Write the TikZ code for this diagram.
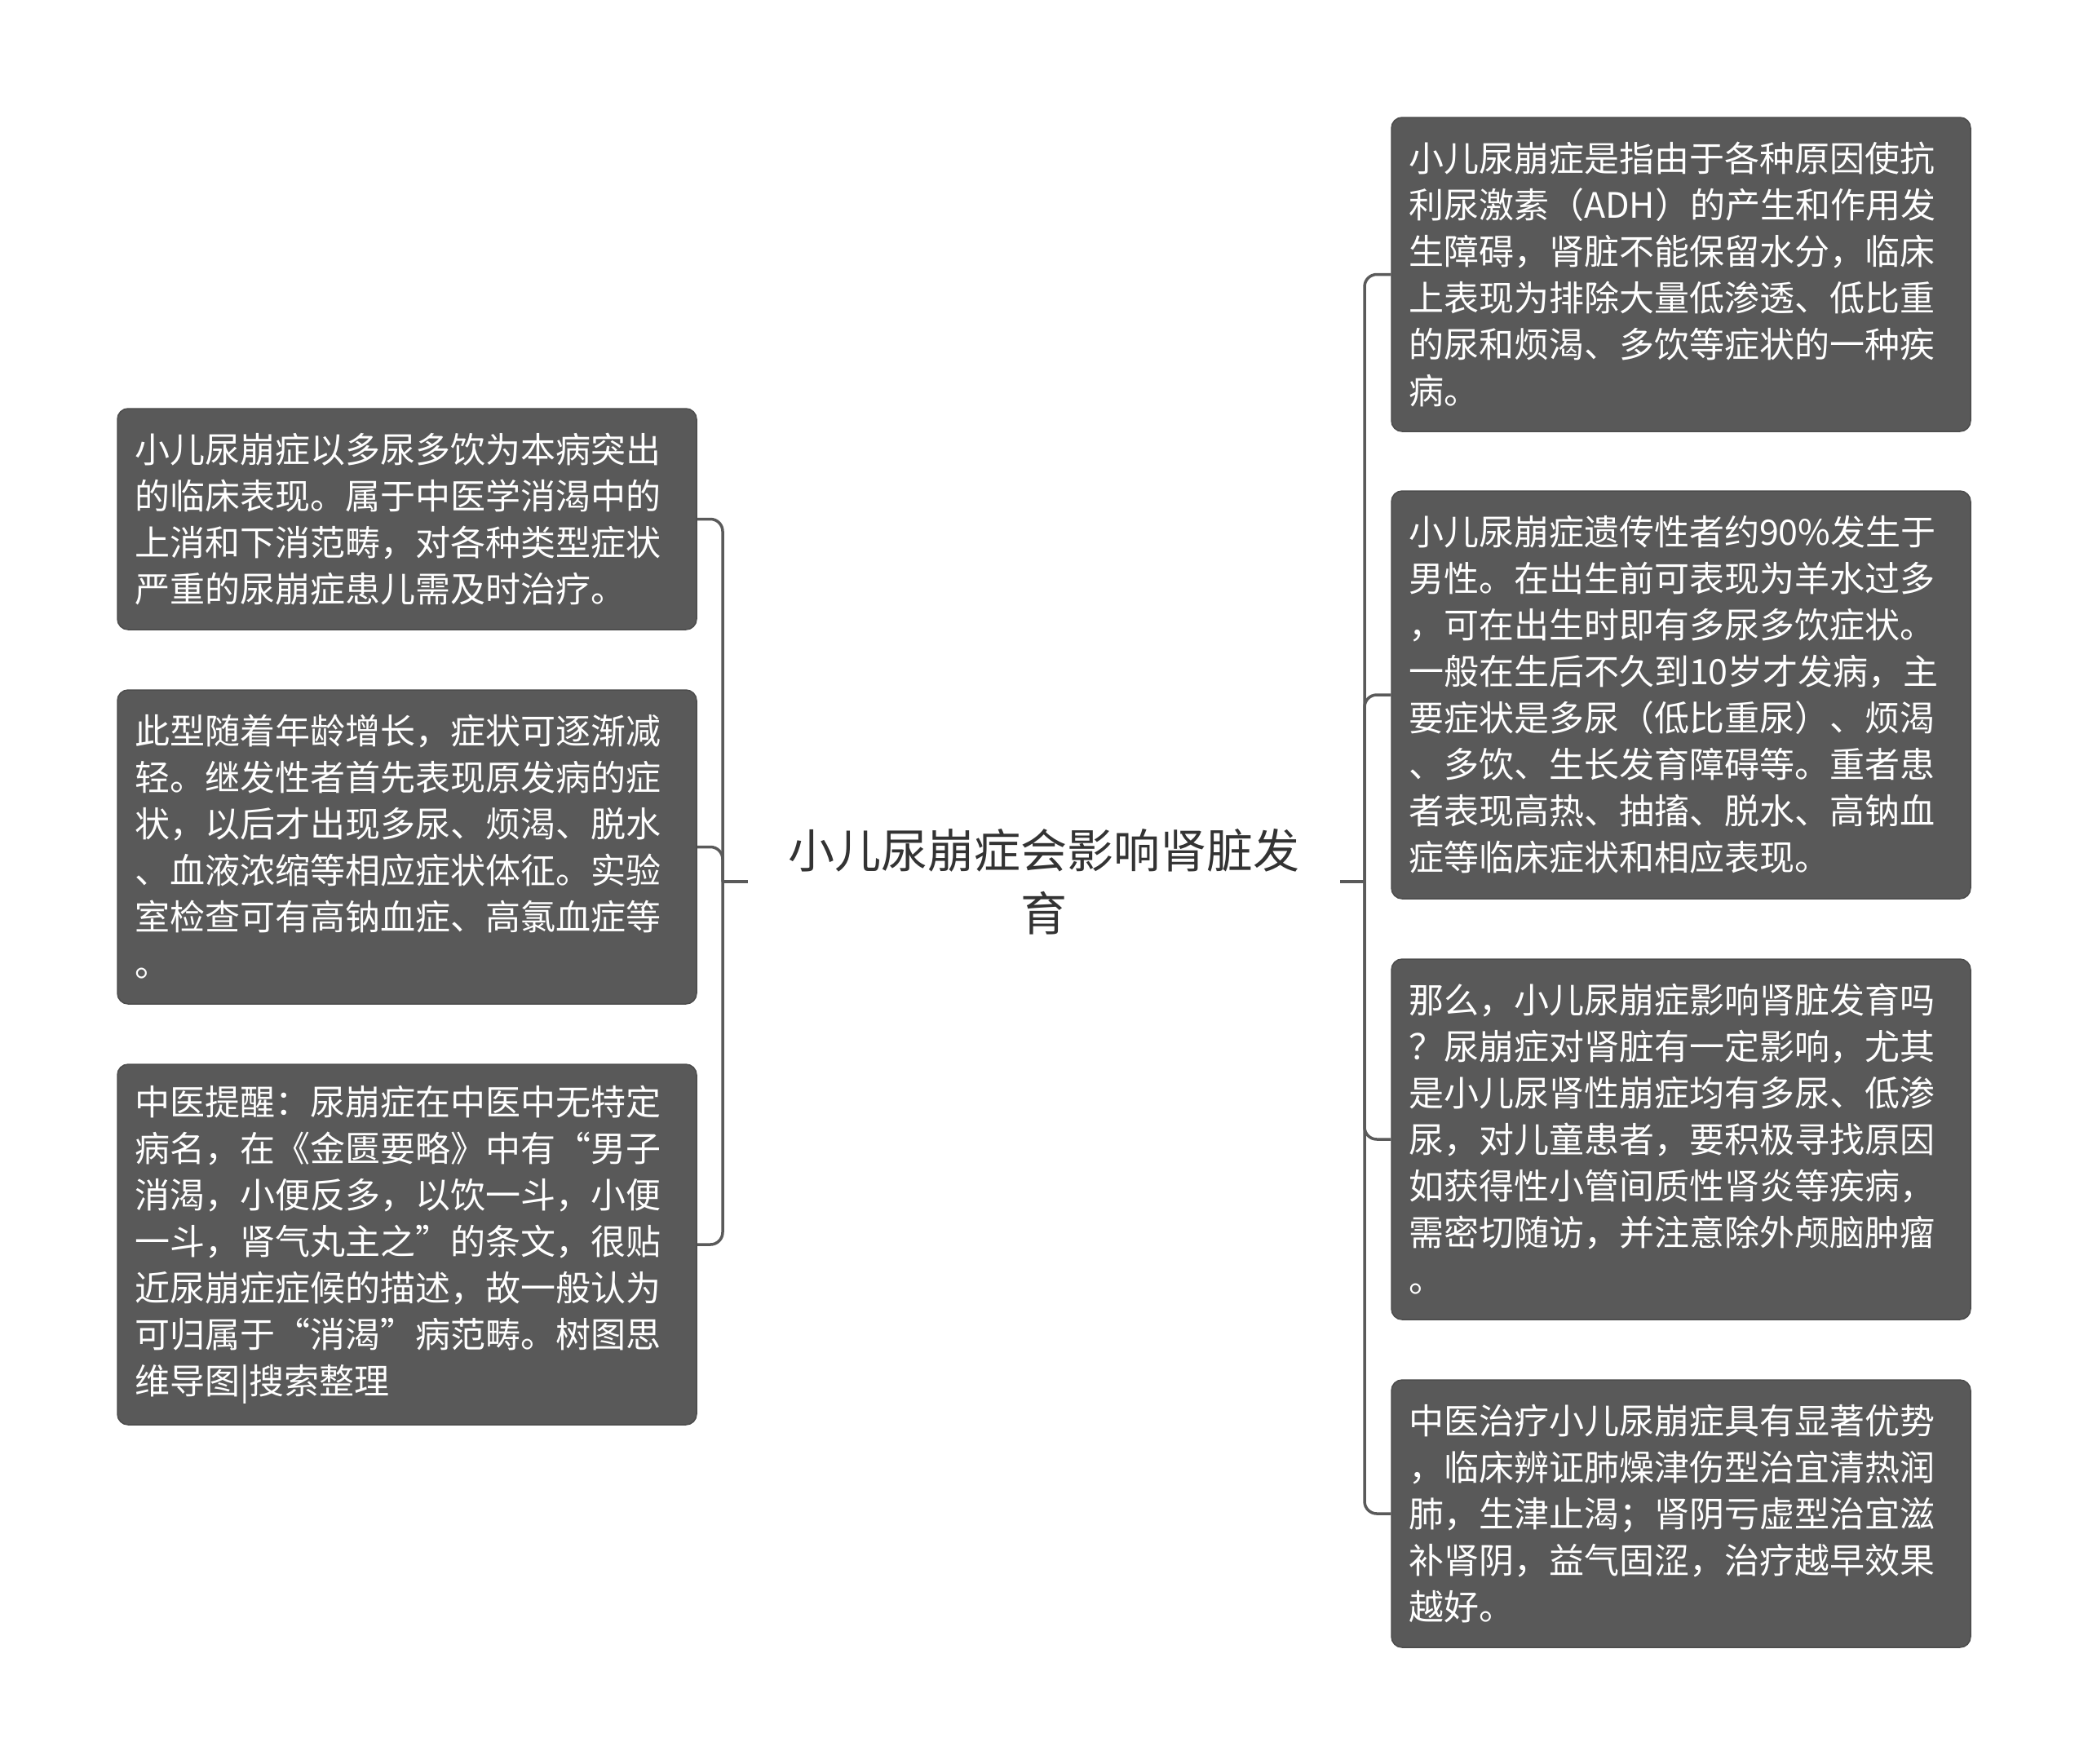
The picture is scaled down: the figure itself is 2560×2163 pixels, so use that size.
\documentclass[tikz,border=0pt]{standalone}
\usepackage{fontspec}
\newfontfamily\cjk{Noto Sans CJK SC}
\definecolor{leafgray}{HTML}{595959}
\definecolor{linegray}{HTML}{5A5A5A}
\definecolor{rootgray}{HTML}{333333}

\begin{document}
\begin{tikzpicture}[
    x=1pt, y=-1pt,
    leaf/.style={draw=leafgray!85!black, line width=1.5pt, rounded corners=13pt, fill=leafgray, text=white, text width=668pt, inner xsep=21pt, inner ysep=0pt, align=left, font=\cjk\fontsize{43}{57}\selectfont},
    root/.style={minimum width=726pt, inner ysep=0pt, align=center, text=rootgray, font=\cjk\fontsize{57}{77}\selectfont},
    link/.style={linegray, line width=3.5pt, rounded corners=15pt}
]
\useasboundingbox[fill=white] (0,0) rectangle (2560,2163);

% central topic
\node[root] (root) at (1280,1081) {小儿尿崩症会影响肾脏发\\育};
\coordinate (lj) at (886,1081);
\coordinate (rj) at (1673,1081);

% left branch
\node[leaf, minimum height=271pt] (l1) at (499,636.5) {小儿尿崩症以多尿多饮为本病突出\\的临床表现。属于中医学消渴中的\\上消和下消范畴，对各种类型症状\\严重的尿崩症患儿需及时治疗。};
\node[leaf, minimum height=385pt] (l2) at (499,1038.5) {此型随着年龄增长，症状可逐渐减\\轻。继发性者首先表现原发病的症\\状，以后才出现多尿、烦渴、脱水\\、血液浓缩等相应症状体征。实验\\室检查可有高钠血症、高氯血症等\\。};
\node[leaf, minimum height=442pt] (l3) at (499,1526) {中医提醒：尿崩症在中医中无特定\\病名，在《金匮要略》中有“男子\\消渴，小便反多，以饮一斗，小便\\一斗，肾气丸主之”的条文，很贴\\近尿崩症症候的描述，故一般认为\\可归属于“消渴”病范畴。树图思\\维导图|搜索整理};

% right branch
\node[leaf, minimum height=385pt] (r1) at (2061,336.5) {小儿尿崩症是指由于各种原因使抗\\利尿激素（ADH）的产生和作用发\\生障碍，肾脏不能保留水分，临床\\上表现为排除大量低渗透、低比重\\的尿和烦渴、多饮等症状的一种疾\\病。};
\node[leaf, minimum height=500pt] (r2) at (2061,852) {小儿尿崩症遗传性者约90\%发生于\\男性。在出生前可表现为羊水过多\\，可在出生时即有多尿多饮症状。\\一般在生后不久到10岁才发病，主\\要症状是多尿（低比重尿）、烦渴\\、多饮、生长发育障碍等。重者患\\者表现高热、抽搐、脱水、高钠血\\症等临床症状和相应表现。};
\node[leaf, minimum height=442pt] (r3) at (2061,1397) {那么，小儿尿崩症影响肾脏发育吗\\？尿崩症对肾脏有一定影响，尤其\\是小儿尿肾性崩症均有多尿、低渗\\尿，对儿童患者，要积极寻找原因\\如获得性小管间质性肾炎等疾病，\\需密切随访，并注意除外颅脑肿瘤\\。};
\node[leaf, minimum height=328pt] (r4) at (2061,1856) {中医治疗小儿尿崩症具有显著优势\\，临床辨证肺燥津伤型治宜清热润\\肺，生津止渴；肾阴亏虚型治宜滋\\补肾阴，益气固涩，治疗越早效果\\越好。};

% connectors
\draw[link] (root.west) -- (lj);
\draw[link] (root.east) -- (rj);
\foreach \n in {l1,l2,l3}
  \draw[link] (lj) |- (\n.east);
\foreach \n in {r1,r2,r3,r4}
  \draw[link] (rj) |- (\n.west);
\end{tikzpicture}
\end{document}
